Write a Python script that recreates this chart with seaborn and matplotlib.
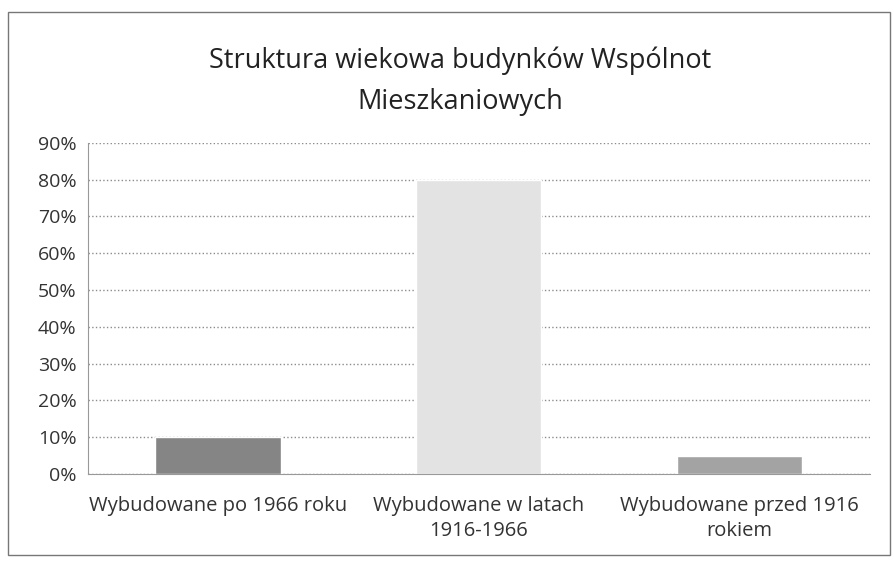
import seaborn as sns
import pandas as pd
import matplotlib.pyplot as plt
from matplotlib.ticker import PercentFormatter
from matplotlib.patches import Rectangle

# data
categories = ['Wybudowane po 1966 roku', 'Wybudowane w latach\n1916-1966', 'Wybudowane przed 1916\nrokiem']
shares = [10, 80, 5]
bar_colors = ['#858585', '#e3e3e3', '#a3a3a3']

df = pd.DataFrame({'kategoria': categories, 'udzial': shares})

sns.set_style('white')
plt.rcParams['font.family'] = ['Open Sans', 'DejaVu Sans']

fig = plt.figure(figsize=(8.94, 5.67), dpi=100)
ax = fig.add_axes([0.098, 0.164, 0.875, 0.584])

sns.barplot(data=df, x='kategoria', y='udzial', hue='kategoria', palette=bar_colors,
            width=0.48, legend=False, ax=ax, zorder=2)

ax.set_ylim(0, 90)
ax.set_yticks(range(0, 91, 10))
ax.yaxis.set_major_formatter(PercentFormatter(decimals=0))
ax.grid(axis='y', color='#8c8c8c', linestyle=':', linewidth=1, zorder=0)
ax.set_xlabel('')
ax.set_ylabel('')
ax.tick_params(axis='y', labelsize=14, colors='#333333', length=0, pad=8)
ax.tick_params(axis='x', labelsize=14.5, colors='#333333', length=0, pad=16)
for lbl in ax.get_xticklabels():
    lbl.set_linespacing(1.35)

for side in ['top', 'right']:
    ax.spines[side].set_visible(False)
ax.spines['left'].set_color('#999999')
ax.spines['bottom'].set_color('#999999')

fig.text(0.515, 0.857, 'Struktura wiekowa budynków Wspólnot\nMieszkaniowych',
         ha='center', va='center', fontsize=19.5, color='#222222', linespacing=1.6)

# chart frame
fig.patches.append(Rectangle((0.009, 0.021), 0.987, 0.958, transform=fig.transFigure,
                             fill=False, edgecolor='#777777', linewidth=1))

fig.savefig('out.png', dpi=100)
